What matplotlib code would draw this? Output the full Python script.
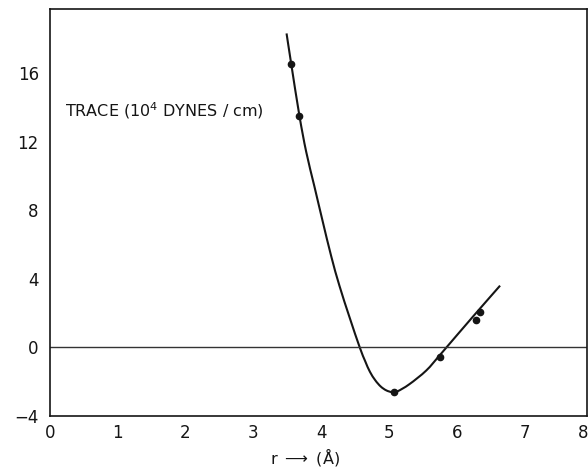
import matplotlib
matplotlib.use("Agg")
import matplotlib.pyplot as plt
import matplotlib.transforms as mtransforms
from matplotlib.path import Path
from matplotlib.patches import PathPatch

# measured points
r_points = [3.56, 3.68, 5.08, 5.76, 6.29, 6.35]
trace_points = [16.5, 13.5, -2.6, -0.58, 1.58, 2.05]

# hand-drawn fitted curve, read along its length
r_curve = [3.49, 3.56, 3.68, 3.78, 3.90, 4.02, 4.15, 4.27, 4.42, 4.57, 4.65,
           4.72, 4.80, 4.88, 4.96, 5.04, 5.12, 5.30, 5.55, 5.74, 5.86, 6.23, 6.64]
trace_curve = [18.3, 16.5, 13.5, 11.4, 9.4, 7.4, 5.3, 3.6, 1.75, 0.0, -0.8,
               -1.42, -1.92, -2.28, -2.5, -2.6, -2.57, -2.15, -1.35, -0.5, 0.05, 1.75, 3.6]

x_labels = [0, 1, 2, 3, 4, 5, 6, 7]
y_labels = [-4, 0, 4, 8, 12, 16]
x_marks = [1, 2, 3, 4, 5, 6, 7]
y_marks = [4, 8, 12, 16]

ink = "#151515"


def smooth_path(xs, ys):
    # Catmull-Rom through the read points, drawn as cubic Bezier segments
    pts = list(zip(xs, ys))
    verts = [pts[0]]
    codes = [Path.MOVETO]
    for i in range(len(pts) - 1):
        p0 = pts[i - 1] if i > 0 else pts[i]
        p1 = pts[i]
        p2 = pts[i + 1]
        p3 = pts[i + 2] if i + 2 < len(pts) else pts[i + 1]
        c1 = (p1[0] + (p2[0] - p0[0]) / 6, p1[1] + (p2[1] - p0[1]) / 6)
        c2 = (p2[0] - (p3[0] - p1[0]) / 6, p2[1] - (p3[1] - p1[1]) / 6)
        verts += [c1, c2, p2]
        codes += [Path.CURVE4] * 3
    return Path(verts, codes)


fig = plt.figure(figsize=(5.88, 4.68), dpi=100)
ax = fig.add_axes([0.085, 0.111, 0.913, 0.870])

ax.axhline(0, color="#333333", lw=1.0)
ax.add_patch(PathPatch(smooth_path(r_curve, trace_curve), fill=False,
                       edgecolor=ink, lw=1.5))
ax.plot(r_points, trace_points, "o", color=ink, ms=4.5)

ax.set_xlim(0, 7.92)
ax.set_ylim(-4, 19.73)

ax.set_xticks(x_labels)
ax.set_xticklabels([str(v) for v in x_labels])
ax.set_yticks(y_labels)
ax.set_yticklabels([f"{v:d}".replace("-", "\u2212") for v in y_labels])
ax.tick_params(axis="both", which="major", length=0, labelsize=12, colors=ink)
ax.tick_params(axis="x", which="major", pad=6)
ax.tick_params(axis="y", which="major", pad=8)

ax.set_xticks(x_marks, minor=True)
ax.set_yticks(y_marks, minor=True)
ax.tick_params(axis="both", which="minor", direction="in", length=10, width=1.3,
               top=True, right=True, color=ink)

for s in ax.spines.values():
    s.set_color(ink)
    s.set_linewidth(1.2)

# the 8 label sits at the clipped right edge
trans = mtransforms.blended_transform_factory(ax.transData, ax.transAxes)
ax.text(7.86, -0.0205, "8", transform=trans, ha="center", va="top", fontsize=12,
        color=ink, clip_on=False)

ax.text(0.22, 13.8, "TRACE (10$^4$ DYNES / $\\mathrm{cm}$)", fontsize=11.5, color=ink,
        ha="left", va="center")

ax.text(3.24, -6.74, "r $\\longrightarrow$ (\u00c5)", fontsize=11.5, color=ink,
        ha="left", va="baseline", clip_on=False)

fig.savefig("out.png", dpi=100)
